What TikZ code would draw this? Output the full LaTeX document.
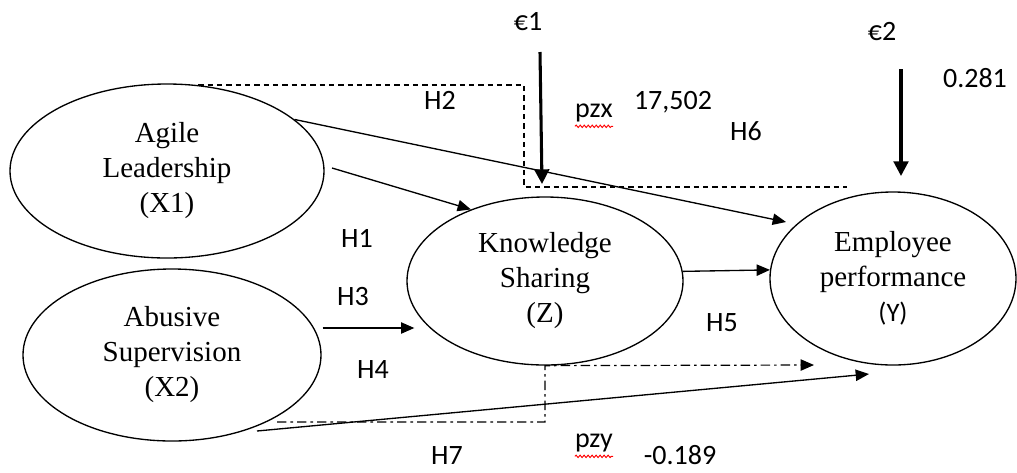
\documentclass[tikz,border=0pt]{standalone}
\usepackage{fontspec}
\setmainfont{Liberation Serif}
\newfontfamily\labelfont{Carlito}
\usetikzlibrary{calc,arrows.meta,shapes.geometric,decorations.pathmorphing}

\tikzset{
  latent/.style={ellipse, draw, line width=1pt, inner sep=0pt, align=center,
    font=\fontsize{21.75}{26.25}\selectfont},
  hyp/.style={font=\labelfont\fontsize{21}{25}\selectfont, inner sep=0pt},
  link/.style={line width=1pt, -{Triangle[length=10pt, width=8.5pt]}},
  errlink/.style={line width=2.3pt, -{Triangle[length=11pt, width=11pt]}},
  h2path/.style={line width=0.9pt, dash pattern=on 4pt off 3pt},
  h7path/.style={line width=0.9pt, dash pattern=on 7pt off 3pt on 2pt off 3pt},
  spell/.style={red, line width=0.7pt, decorate,
    decoration={snake, amplitude=0.9pt, segment length=3pt}}
}

\begin{document}
\begin{tikzpicture}[x=0.75pt, y=-0.75pt]
\useasboundingbox (0,0) rectangle (1017,472);

% constructs
\node[latent, minimum width=235.5pt, minimum height=130.5pt] (X1) at (167,171) {Agile\\Leadership\\(X1)};
\node[latent, minimum width=223.5pt, minimum height=129pt] (X2) at (172,355) {Abusive\\Supervision\\(X2)};
\node[latent, minimum width=207pt, minimum height=126pt] (Z) at (545,281) {Knowledge\\Sharing\\(Z)};
\node[latent, minimum width=184.5pt, minimum height=129.75pt] (Y) at (893,278.5) {Employee\\performance\\{\labelfont\fontsize{20}{24}\selectfont(Y)}};

% error terms and coefficients
\node[hyp] (e1) at (528,22) {€1};
\node[hyp] (e2) at (882,32) {€2};
\node[hyp] (r2) at (975,78) {0.281};
\node[hyp] (pzx) at (594,113) {pzx};
\node[hyp] (bzx) at (673,102) {17,502};
\node[hyp] (pzy) at (594,443) {pzy};
\node[hyp] (bzy) at (680,455) {-0.189};

% hypothesis labels
\node[hyp] (H1) at (357,238) {H1};
\node[hyp] (H2) at (440,100) {H2};
\node[hyp] (H3) at (353,297) {H3};
\node[hyp] (H4) at (373,370) {H4};
\node[hyp] (H5) at (722,323) {H5};
\node[hyp] (H6) at (746,131) {H6};
\node[hyp] (H7) at (447,456) {H7};

% free ends
\coordinate (e1top) at (540,52);
\coordinate (e1tip) at (542,184);
\coordinate (e2top) at (901,69);
\coordinate (e2tip) at (901,176);
\coordinate (h2corner) at (524,187);
\coordinate (h2end) at (847,187);
\coordinate (h6tip) at (786,222);
\coordinate (h1start) at (332,168);
\coordinate (h7start) at (277,422);
\coordinate (h4tip) at (814,365);
\coordinate (h7lstart) at (257,431);
\coordinate (h7tip) at (869,374);

% mediation paths
\draw[h2path] (X1.70) -| (h2corner) -- (h2end);
\draw[h7path, -{Triangle[length=10pt, width=8.5pt]}] (h7start) -| (Z.south) -- (h4tip);

% direct paths
\draw[link] (h1start) -- (Z.136);
\draw[link] (X1.22) -- (h6tip);
\draw[link] ($(X2.east)+(1,-27)$) -- ($(Z.west)+(8,47)$);
\draw[link] (Z.4) -- (Y.176);
\draw[link] (h7lstart) -- (h7tip);

% residual arrows
\draw[errlink] (e1top) -- (e1tip);
\draw[errlink] (e2top) -- (e2tip);

% spell-check marks
\draw[spell] ($(pzx.south west)+(0,4)$) -- ($(pzx.south east)+(0,4)$);
\draw[spell] ($(pzy.south west)+(0,4)$) -- ($(pzy.south east)+(0,4)$);

\end{tikzpicture}
\end{document}
